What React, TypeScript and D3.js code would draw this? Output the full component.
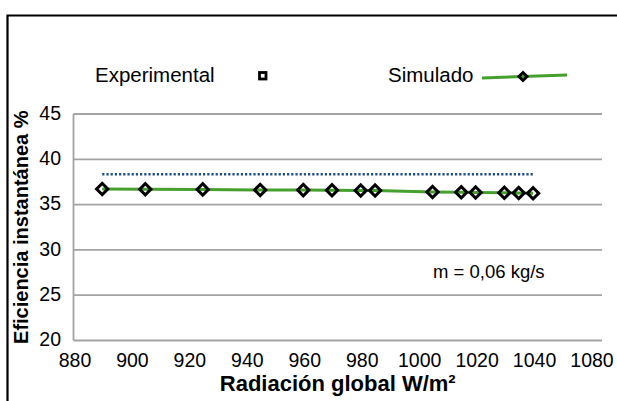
import { useEffect, useRef } from 'react';
import * as d3 from 'd3';

// radiación global (W/m²)
const radiacion = [890, 905, 925, 945, 960, 970, 980, 985, 1005, 1015, 1020, 1030, 1035, 1040];
// eficiencia simulada (%)
const simulado = [36.72, 36.7, 36.68, 36.62, 36.6, 36.58, 36.56, 36.55, 36.4, 36.36, 36.34, 36.3, 36.28, 36.25];
// eficiencia experimental (%)
const experimental = [38.35, 38.35, 38.35, 38.35, 38.35, 38.35, 38.35, 38.35, 38.35, 38.35, 38.35, 38.35, 38.35, 38.35];

const xTicks = [880, 900, 920, 940, 960, 980, 1000, 1020, 1040, 1060];
const xTickLabels = ['880', '900', '920', '940', '960', '980', '1000', '1020', '1040', '1080'];
const yTicks = [20, 25, 30, 35, 40, 45];

const FONT = 'Arial, "Liberation Sans", sans-serif';

export default function App() {
    const svgRef = useRef<SVGSVGElement>(null);

    useEffect(() => {
        if (!svgRef.current) return;
        const svg = d3.select(svgRef.current);
        svg.selectAll('*').remove();

        const width = 617;
        const height = 401;

        const x = d3.scaleLinear().domain([880, 1064]).range([73.5, 602]);
        const y = d3.scaleLinear().domain([20, 45]).range([340.5, 114]);

        svg.attr('width', width).attr('height', height);

        svg.append('rect').attr('width', width).attr('height', height).attr('fill', '#fff');

        // marco exterior (recortado)
        svg.append('path')
            .attr('d', `M7.5,${height + 5}V15.5H${width + 5}`)
            .attr('fill', 'none')
            .attr('stroke', '#000')
            .attr('stroke-width', 2.2);

        // líneas de cuadrícula
        svg.append('g')
            .selectAll('line')
            .data(yTicks)
            .join('line')
            .attr('x1', x(880))
            .attr('x2', x.range()[1])
            .attr('y1', d => y(d))
            .attr('y2', d => y(d))
            .attr('stroke', '#a3a3a3')
            .attr('stroke-width', 1.8);

        svg.append('line')
            .attr('x1', x(880)).attr('x2', x(880))
            .attr('y1', y(45)).attr('y2', y(20))
            .attr('stroke', '#a3a3a3')
            .attr('stroke-width', 1.8);

        // etiquetas eje y
        svg.append('g')
            .selectAll('text')
            .data(yTicks)
            .join('text')
            .attr('x', 61)
            .attr('y', d => y(d) - 1)
            .attr('dy', '0.35em')
            .attr('text-anchor', 'end')
            .style('font-family', FONT)
            .style('font-size', '19.5px')
            .style('fill', '#000')
            .text(d => d);

        // etiquetas eje x
        svg.append('g')
            .selectAll('text')
            .data(xTicks)
            .join('text')
            .attr('x', d => x(d) + 1.5)
            .attr('y', 366.5)
            .attr('text-anchor', 'middle')
            .style('font-family', FONT)
            .style('font-size', '19.5px')
            .style('fill', '#000')
            .text((d, i) => xTickLabels[i]);

        // títulos de ejes
        svg.append('text')
            .attr('x', (x.range()[0] + x.range()[1]) / 2)
            .attr('y', 391)
            .attr('text-anchor', 'middle')
            .style('font-family', FONT)
            .style('font-size', '22px')
            .style('font-weight', 'bold')
            .text('Radiación global W/m²');

        svg.append('text')
            .attr('transform', `translate(28, ${(y(20) + y(45)) / 2}) rotate(-90)`)
            .attr('text-anchor', 'middle')
            .style('font-family', FONT)
            .style('font-size', '20px')
            .style('font-weight', 'bold')
            .text('Eficiencia instantánea %');

        // serie experimental (línea punteada)
        const lineExp = d3.line<number>()
            .x((d, i) => x(radiacion[i]))
            .y(d => y(d));

        svg.append('path')
            .datum(experimental)
            .attr('d', lineExp)
            .attr('fill', 'none')
            .attr('stroke', '#1f4e8c')
            .attr('stroke-width', 2.6)
            .attr('stroke-dasharray', '2.2,2');

        // serie simulada
        const lineSim = d3.line<number>()
            .x((d, i) => x(radiacion[i]))
            .y(d => y(d));

        svg.append('path')
            .datum(simulado)
            .attr('d', lineSim)
            .attr('fill', 'none')
            .attr('stroke', '#46a02e')
            .attr('stroke-width', 3);

        const diamond = d3.symbol().type(d3.symbolSquare).size(64);

        svg.append('g')
            .selectAll('path')
            .data(simulado)
            .join('path')
            .attr('d', diamond)
            .attr('transform', (d, i) => `translate(${x(radiacion[i])}, ${y(d)}) rotate(45)`)
            .attr('fill', 'none')
            .attr('stroke', '#000')
            .attr('stroke-width', 3);

        // anotación
        svg.append('text')
            .attr('x', 433)
            .attr('y', 278)
            .style('font-family', FONT)
            .style('font-size', '18.5px')
            .style('fill', '#000')
            .text('m = 0,06 kg/s');

        // leyenda
        const legend = svg.append('g');
        legend.append('text')
            .attr('x', 95)
            .attr('y', 81.5)
            .style('font-family', FONT)
            .style('font-size', '20.5px')
            .text('Experimental');

        legend.append('rect')
            .attr('x', 259.5)
            .attr('y', 72.5)
            .attr('width', 6.5)
            .attr('height', 6.5)
            .attr('fill', '#fff')
            .attr('stroke', '#000')
            .attr('stroke-width', 2.8);

        legend.append('text')
            .attr('x', 388)
            .attr('y', 81.5)
            .style('font-family', FONT)
            .style('font-size', '20.5px')
            .text('Simulado');

        legend.append('line')
            .attr('x1', 482).attr('y1', 78)
            .attr('x2', 567).attr('y2', 75)
            .attr('stroke', '#46a02e')
            .attr('stroke-width', 3);

        legend.append('path')
            .attr('d', d3.symbol().type(d3.symbolSquare).size(32)())
            .attr('transform', 'translate(523, 76.5) rotate(45)')
            .attr('fill', 'none')
            .attr('stroke', '#000')
            .attr('stroke-width', 3);
    }, []);

    return (
        <div style={{ position: 'absolute', left: 0, top: 0 }}>
            <svg ref={svgRef} style={{ display: 'block' }}></svg>
        </div>
    );
}
